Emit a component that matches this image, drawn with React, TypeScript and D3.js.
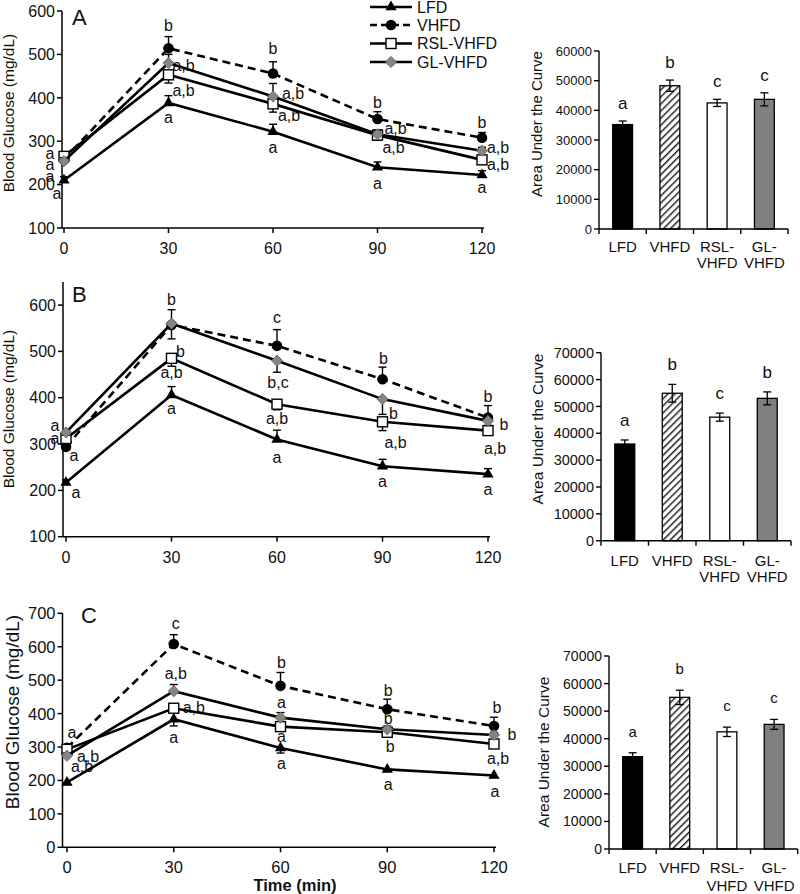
import React from "react";
import * as d3 from "d3";

const FONT = "'Liberation Sans', Arial, Helvetica, sans-serif";

const times = [0, 30, 60, 90, 120];
const groups = ["LFD", "VHFD", "RSL-VHFD", "GL-VHFD"];
const barTickLines = [["LFD"], ["VHFD"], ["RSL-", "VHFD"], ["GL-", "VHFD"]];

// ---------- Panel A ----------
const lfdA = [210, 388, 322, 240, 222];
const vhfdA = [258, 514, 456, 351, 308];
const rslA = [265, 453, 386, 314, 257];
const glA = [254, 480, 403, 316, 278];
const lfdErrA = [8, 17, 17, 12, 10];
const vhfdErrA = [10, 27, 27, 17, 12];
const rslErrA = [-8, -19, -19, -12, -10];
const glErrA = [8, 20, 30, 10, 8];
const yTicksA = [100, 200, 300, 400, 500, 600];
const annotA: [number, number, string, number][] = [
  [30, 568, "b", 0], [30, 476, "a,b", 15], [30, 418, "a,b", 15], [30, 356, "a", 0],
  [60, 515, "b", 0], [60, 411, "a,b", 20], [60, 360, "a,b", 16], [60, 287, "a", 0],
  [90, 390, "b", 0], [90, 330, "a,b", 18], [90, 287, "a,b", 16], [90, 204, "a", 0],
  [120, 344, "b", 0], [120, 287, "a,b", 16], [120, 247, "a,b", 16], [120, 194, "a", 0],
  [0, 273, "a", -14], [0, 247, "a", -14], [0, 220, "a", -14], [0, 181, "a", -7],
];
const aucA = [35200, 48300, 42500, 43700];
const aucErrA = [1200, 1900, 1200, 2200];
const aucLetA = ["a", "b", "c", "c"];
const aucTicksA = [0, 10000, 20000, 30000, 40000, 50000, 60000];

// ---------- Panel B ----------
const lfdB = [217, 406, 310, 252, 235];
const vhfdB = [294, 557, 512, 440, 357];
const rslB = [312, 485, 386, 348, 329];
const glB = [325, 560, 480, 397, 350];
const lfdErrB = [6, 18, 20, 15, 12];
const vhfdErrB = [10, 33, 35, 26, 26];
const rslErrB = [-6, -17, -12, -19, -8];
const glErrB = [-6, -33, -25, -33, -10];
const yTicksB = [100, 200, 300, 400, 500, 600];
const annotB: [number, number, string, number][] = [
  [30, 613, "b", 0], [30, 501, "b", 9], [30, 454, "a,b", 0], [30, 378, "a", 0],
  [60, 574, "c", 0], [60, 434, "b,c", 1], [60, 356, "a,b", 0], [60, 272, "a", 0],
  [90, 486, "b", 1], [90, 367, "b", 11], [90, 304, "a,b", 13], [90, 219, "a", 0],
  [120, 404, "b", 0], [120, 343, "b", 16], [120, 291, "a,b", 7], [120, 203, "a", 0],
  [0, 340, "a", -11], [0, 313, "a", -11], [0, 276, "a", 8], [0, 197, "a", 10],
];
const aucB = [36000, 54900, 46000, 53000];
const aucErrB = [1500, 3300, 1500, 2400];
const aucLetB = ["a", "b", "c", "b"];
const aucTicksB = [0, 10000, 20000, 30000, 40000, 50000, 60000, 70000];

// ---------- Panel C ----------
const lfdC = [194, 383, 297, 233, 215];
const vhfdC = [298, 608, 483, 413, 363];
const rslC = [293, 416, 361, 344, 309];
const glC = [274, 467, 388, 353, 336];
const lfdErrC = [-6, -20, -15, -6, -6];
const vhfdErrC = [8, 28, 40, 30, 26];
const rslErrC = [-8, -10, -10, -10, -8];
const glErrC = [8, 20, 15, 10, 8];
const yTicksC = [0, 100, 200, 300, 400, 500, 600, 700];
const annotC: [number, number, string, number][] = [
  [30, 670, "c", 2], [30, 520, "a,b", 2], [30, 420, "a,b", 20], [30, 330, "a", 0],
  [60, 555, "b", 1], [60, 434, "a", 1], [60, 331, "a", 1], [60, 251, "a", 1],
  [90, 470, "b", 1], [90, 386, "b", 1], [90, 301, "b", 3], [90, 189, "a", 1],
  [120, 418, "b", 3], [120, 339, "b", 18], [120, 266, "a,b", 4], [120, 169, "a", 1],
  [0, 343, "a", 5], [0, 271, "a,b", 21], [0, 243, "a,b", 15],
];
const aucC = [33500, 55000, 42500, 45200];
const aucErrC = [1400, 2600, 1700, 1800];
const aucLetC = ["a", "b", "c", "c"];
const aucTicksC = [0, 10000, 20000, 30000, 40000, 50000, 60000, 70000];

const timeTicks = [0, 30, 60, 90, 120];

// ---------- markers ----------
function Marker({ kind, x, y }: { kind: number; x: number; y: number }) {
  if (kind === 0) {
    const d = d3.symbol(d3.symbolTriangle, 55)();
    return <path d={d || ""} transform={`translate(${x},${y})`} fill="#000" />;
  }
  if (kind === 1) return <circle cx={x} cy={y} r={5.3} fill="#000" />;
  if (kind === 2)
    return <rect x={x - 5} y={y - 5} width={10} height={10} fill="#fff" stroke="#000" strokeWidth={1.4} />;
  const r = 5.6;
  return (
    <polygon
      points={`${x},${y - r} ${x + r},${y} ${x},${y + r} ${x - r},${y}`}
      fill="#858585"
      stroke="#5a5a5a"
      strokeWidth={0.8}
    />
  );
}

type LineProps = {
  series: number[][];
  errs: number[][];
  annots: [number, number, string, number][];
  xRange: [number, number];
  axisX: number;
  yDomain: [number, number];
  yRange: [number, number];
  yTicks: number[];
  tickSize: number;
  tickLabelY: number;
  yLabel: { x: number; y: number; size: number };
  letter: { text: string; x: number; y: number };
  annotSize: number;
};

function LinePanel(p: LineProps) {
  const x = d3.scaleLinear().domain([0, 120]).range(p.xRange);
  const y = d3.scaleLinear().domain(p.yDomain).range(p.yRange);
  const line = d3
    .line<number>()
    .x((_, i) => x(times[i]))
    .y((d) => y(d));
  const yBottom = p.yRange[0];
  const xEnd = x(120) + 2;
  return (
    <g fontFamily={FONT}>
      {/* annotations */}
      {p.annots.map(([t, v, s, dx], i) => (
        <text
          key={"an" + i}
          x={x(t) + dx}
          y={y(v)}
          dy="0.36em"
          textAnchor="middle"
          fontSize={p.annotSize}
          fill="#111"
        >
          {s}
        </text>
      ))}
      {/* axes */}
      <line x1={p.axisX} x2={p.axisX} y1={y(p.yDomain[1])} y2={yBottom} stroke="#000" strokeWidth={1.5} />
      <line x1={p.axisX} x2={xEnd} y1={yBottom} y2={yBottom} stroke="#000" strokeWidth={1.5} />
      {p.yTicks.map((t) => (
        <g key={"yt" + t}>
          <line x1={p.axisX - 5} x2={p.axisX} y1={y(t)} y2={y(t)} stroke="#000" strokeWidth={1.5} />
          <text x={p.axisX - 7} y={y(t)} dy="0.36em" textAnchor="end" fontSize={p.tickSize} fill="#111">
            {t}
          </text>
        </g>
      ))}
      {timeTicks.map((t) => (
        <g key={"xt" + t}>
          <line x1={x(t)} x2={x(t)} y1={yBottom} y2={yBottom + 5} stroke="#000" strokeWidth={1.5} />
          <text x={x(t)} y={p.tickLabelY} textAnchor="middle" fontSize={p.tickSize} fill="#111">
            {t}
          </text>
        </g>
      ))}
      <text
        transform={`translate(${p.yLabel.x},${p.yLabel.y}) rotate(-90)`}
        dy="0.36em"
        textAnchor="middle"
        fontSize={p.yLabel.size}
        fill="#111"
      >
        Blood Glucose (mg/dL)
      </text>
      <text x={p.letter.x} y={p.letter.y} fontSize={22} fill="#111">
        {p.letter.text}
      </text>
      {/* series */}
      {p.series.map((vals, si) => (
        <g key={"s" + si}>
          {vals.map((v, i) => {
            const e = p.errs[si][i];
            const yy = y(v + e);
            return (
              <g key={"e" + i}>
                <line x1={x(times[i])} x2={x(times[i])} y1={y(v)} y2={yy} stroke="#000" strokeWidth={1.4} />
                <line x1={x(times[i]) - 4} x2={x(times[i]) + 4} y1={yy} y2={yy} stroke="#000" strokeWidth={1.4} />
              </g>
            );
          })}
          <path
            d={line(vals) || ""}
            fill="none"
            stroke="#000"
            strokeWidth={2.6}
            strokeDasharray={si === 1 ? "8,5" : undefined}
          />
          {vals.map((v, i) => (
            <Marker key={"m" + i} kind={si} x={x(times[i])} y={y(v)} />
          ))}
        </g>
      ))}
    </g>
  );
}

type BarProps = {
  values: number[];
  errs: number[];
  letters: string[];
  xRange: [number, number];
  yDomain: [number, number];
  yRange: [number, number];
  yTicks: number[];
  tickSize: number;
  catSize: number;
  catY: number;
  catLine: number;
  yLabel: { x: number; y: number; size: number };
  letterSize: number;
  letterGap: number;
};

const barFills = ["#000", "url(#hatch)", "#fff", "#7f7f7f"];

function BarPanel(p: BarProps) {
  const xb = d3.scaleBand<string>().domain(groups).range(p.xRange).paddingInner(0.58).paddingOuter(0.29);
  const y = d3.scaleLinear().domain(p.yDomain).range(p.yRange);
  const step = xb.step();
  const y0 = p.yRange[0];
  return (
    <g fontFamily={FONT}>
      {groups.map((g, i) => {
        const bx = xb(g) as number;
        const top = y(p.values[i]);
        const cx = bx + xb.bandwidth() / 2;
        const ey = y(p.values[i] + p.errs[i]);
        const ey2 = y(p.values[i] - p.errs[i]);
        return (
          <g key={g}>
            <rect x={bx} y={top} width={xb.bandwidth()} height={y0 - top} fill={barFills[i]} stroke="#000" strokeWidth={1.3} />
            <line x1={cx} x2={cx} y1={ey} y2={ey2} stroke="#000" strokeWidth={1.3} />
            <line x1={cx - 4} x2={cx + 4} y1={ey} y2={ey} stroke="#000" strokeWidth={1.3} />
            <line x1={cx - 4} x2={cx + 4} y1={ey2} y2={ey2} stroke="#000" strokeWidth={1.3} />
            <text x={cx} y={ey - p.letterGap} textAnchor="middle" fontSize={p.letterSize} fill="#111">
              {p.letters[i]}
            </text>
            {barTickLines[i].map((s, k) => (
              <text key={k} x={cx} y={p.catY + k * p.catLine} textAnchor="middle" fontSize={p.catSize} fill="#111">
                {s}
              </text>
            ))}
          </g>
        );
      })}
      <line x1={p.xRange[0]} x2={p.xRange[0]} y1={p.yRange[1]} y2={y0} stroke="#000" strokeWidth={1.4} />
      <line x1={p.xRange[0]} x2={p.xRange[1]} y1={y0} y2={y0} stroke="#000" strokeWidth={1.4} />
      {d3.range(0, groups.length + 1).map((i) => (
        <line key={"bt" + i} x1={p.xRange[0] + i * step} x2={p.xRange[0] + i * step} y1={y0} y2={y0 + 5} stroke="#000" strokeWidth={1.4} />
      ))}
      {p.yTicks.map((t) => (
        <g key={"byt" + t}>
          <line x1={p.xRange[0] - 5} x2={p.xRange[0]} y1={y(t)} y2={y(t)} stroke="#000" strokeWidth={1.4} />
          <text x={p.xRange[0] - 7} y={y(t)} dy="0.36em" textAnchor="end" fontSize={p.tickSize} fill="#111">
            {t}
          </text>
        </g>
      ))}
      <text
        transform={`translate(${p.yLabel.x},${p.yLabel.y}) rotate(-90)`}
        dy="0.36em"
        textAnchor="middle"
        fontSize={p.yLabel.size}
        fill="#111"
      >
        Area Under the Curve
      </text>
    </g>
  );
}

function Legend() {
  const rows = [7, 25, 43.5, 62];
  return (
    <g fontFamily={FONT}>
      {groups.map((g, i) => (
        <g key={g}>
          <line
            x1={370}
            x2={412}
            y1={rows[i]}
            y2={rows[i]}
            stroke="#000"
            strokeWidth={2.6}
            strokeDasharray={i === 1 ? "7,4" : undefined}
          />
          <Marker kind={i} x={391} y={rows[i]} />
          <text x={417} y={rows[i]} dy="0.36em" fontSize={16} fill="#111">
            {g}
          </text>
        </g>
      ))}
    </g>
  );
}

export default function App() {
  return (
    <svg
      width={800}
      height={894}
      style={{ position: "absolute", left: 0, top: 0, background: "#fff" }}
    >
      <defs>
        <pattern id="hatch" width={5} height={5} patternUnits="userSpaceOnUse" patternTransform="rotate(45)">
          <rect width={5} height={5} fill="#fff" />
          <line x1={0} y1={0} x2={0} y2={5} stroke="#222" strokeWidth={3} />
        </pattern>
      </defs>
      <rect width={800} height={894} fill="#fff" />

      <LinePanel
        series={[lfdA, vhfdA, rslA, glA]}
        errs={[lfdErrA, vhfdErrA, rslErrA, glErrA]}
        annots={annotA}
        xRange={[64, 482]}
        axisX={62}
        yDomain={[100, 600]}
        yRange={[228, 11]}
        yTicks={yTicksA}
        tickSize={16}
        tickLabelY={254}
        yLabel={{ x: 8, y: 113, size: 15.5 }}
        letter={{ text: "A", x: 72, y: 25 }}
        annotSize={16}
      />
      <Legend />
      <BarPanel
        values={aucA}
        errs={aucErrA}
        letters={aucLetA}
        xRange={[599, 788]}
        yDomain={[0, 60000]}
        yRange={[229, 51]}
        yTicks={aucTicksA}
        tickSize={13}
        catSize={15}
        catY={252}
        catLine={16}
        yLabel={{ x: 537, y: 124, size: 15 }}
        letterSize={17}
        letterGap={12}
      />

      <LinePanel
        series={[lfdB, vhfdB, rslB, glB]}
        errs={[lfdErrB, vhfdErrB, rslErrB, glErrB]}
        annots={annotB}
        xRange={[66, 488]}
        axisX={63}
        yDomain={[100, 650]}
        yRange={[536.7, 281.9]}
        yTicks={yTicksB}
        tickSize={16}
        tickLabelY={563}
        yLabel={{ x: 8, y: 409, size: 15.5 }}
        letter={{ text: "B", x: 72, y: 302 }}
        annotSize={16}
      />
      <BarPanel
        values={aucB}
        errs={aucErrB}
        letters={aucLetB}
        xRange={[601, 791]}
        yDomain={[0, 70000]}
        yRange={[540.7, 352.7]}
        yTicks={aucTicksB}
        tickSize={14.5}
        catSize={15}
        catY={566}
        catLine={16}
        yLabel={{ x: 537, y: 429, size: 15.5 }}
        letterSize={17}
        letterGap={14}
      />

      <LinePanel
        series={[lfdC, vhfdC, rslC, glC]}
        errs={[lfdErrC, vhfdErrC, rslErrC, glErrC]}
        annots={annotC}
        xRange={[67, 494]}
        axisX={62.5}
        yDomain={[0, 700]}
        yRange={[847.3, 613.3]}
        yTicks={yTicksC}
        tickSize={16.5}
        tickLabelY={873}
        yLabel={{ x: 12, y: 712, size: 19 }}
        letter={{ text: "C", x: 81, y: 623 }}
        annotSize={16}
      />
      <text x={295} y={891} textAnchor="middle" fontFamily={FONT} fontWeight="bold" fontSize={16.5} fill="#111">
        Time (min)
      </text>
      <BarPanel
        values={aucC}
        errs={aucErrC}
        letters={aucLetC}
        xRange={[609, 797.7]}
        yDomain={[0, 70000]}
        yRange={[849, 656]}
        yTicks={aucTicksC}
        tickSize={14}
        catSize={15}
        catY={873}
        catLine={18}
        yLabel={{ x: 543, y: 752, size: 15.5 }}
        letterSize={15}
        letterGap={16}
      />
    </svg>
  );
}
